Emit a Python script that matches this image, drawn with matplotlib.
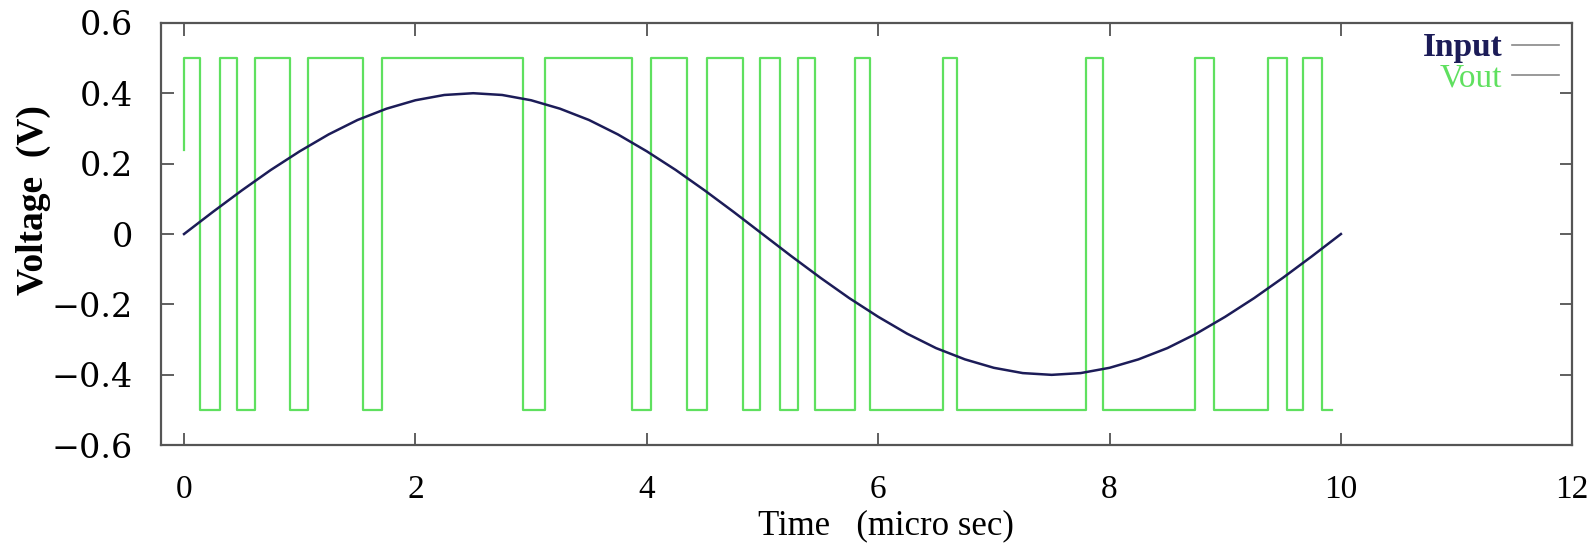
import matplotlib.pyplot as plt

# Input sine, every 0.25 micro sec
t_in = [i * 0.25 for i in range(41)]
v_in = [0, 0.063, 0.124, 0.182, 0.235, 0.283, 0.324, 0.356, 0.380, 0.395,
        0.400, 0.395, 0.380, 0.356, 0.324, 0.283, 0.235, 0.182, 0.124, 0.063,
        0, -0.063, -0.124, -0.182, -0.235, -0.283, -0.324, -0.356, -0.380, -0.395,
        -0.400, -0.395, -0.380, -0.356, -0.324, -0.283, -0.235, -0.182, -0.124, -0.063,
        0]

# Vout switching instants and the level held after each one
t_out = [0, 0, 0.14, 0.31, 0.455, 0.61, 0.915, 1.07, 1.55, 1.71, 2.93, 3.12,
         3.87, 4.04, 4.345, 4.52, 4.83, 4.98, 5.15, 5.31, 5.45, 5.80, 5.93,
         6.56, 6.68, 7.80, 7.945, 8.74, 8.90, 9.37, 9.53, 9.67, 9.84, 9.92]
v_out = [0.24, 0.5, -0.5, 0.5, -0.5, 0.5, -0.5, 0.5, -0.5, 0.5, -0.5, 0.5,
         -0.5, 0.5, -0.5, 0.5, -0.5, 0.5, -0.5, 0.5, -0.5, 0.5, -0.5,
         0.5, -0.5, 0.5, -0.5, 0.5, -0.5, 0.5, -0.5, 0.5, -0.5, -0.5]

x_ticks = [0, 2, 4, 6, 8, 10, 12]
y_ticks = [-0.6, -0.4, -0.2, 0, 0.2, 0.4, 0.6]
y_ticklabels = ['\u22120.6', '\u22120.4', '\u22120.2', '0', '0.2', '0.4', '0.6']

plt.rcParams['font.family'] = ['Liberation Serif', 'DejaVu Serif']

fig = plt.figure(figsize=(15.93, 5.43), dpi=100)
ax = fig.add_axes([0.101, 0.180, 0.886, 0.778])

ax.plot(t_out, v_out, drawstyle='steps-post', color='#5fe05f', lw=1.6, label='Vout')
ax.plot(t_in, v_in, color='#1c1c58', lw=1.8, label='Input')

ax.set_xlim(-0.2, 12)
ax.set_ylim(-0.6, 0.6)
ax.set_xticks(x_ticks)
ax.set_yticks(y_ticks)
ax.set_yticklabels(y_ticklabels, family='DejaVu Serif')
ax.tick_params(direction='in', length=9, width=1.2, top=True, right=True,
               color='#444444')
ax.tick_params(axis='x', labelsize=24, pad=21)
ax.tick_params(axis='y', labelsize=24, pad=20)
for s in ax.spines.values():
    s.set_color('#555555')
    s.set_linewidth(1.6)

ax.set_xlabel('Time   (micro sec)', fontsize=25)
ax.xaxis.set_label_coords(0.514, -0.152)
ax.set_ylabel('Voltage  (V)', fontsize=27, fontweight='bold')
ax.yaxis.set_label_coords(-0.078, 0.58)

h, l = ax.get_legend_handles_labels()
leg = ax.legend(h[::-1], l[::-1], loc='upper right', bbox_to_anchor=(0.993, 0.985),
                frameon=False, markerfirst=False, fontsize=24, handlelength=1.4,
                handletextpad=0.3, labelspacing=0.0, borderaxespad=0.0, borderpad=0.1,
                labelcolor=['#1c1c58', '#5fe05f'])
for line in leg.get_lines():
    line.set_color('#888888')
    line.set_linewidth(1.2)
leg.get_texts()[0].set_fontweight('bold')

fig.savefig('out.png', dpi=100)
